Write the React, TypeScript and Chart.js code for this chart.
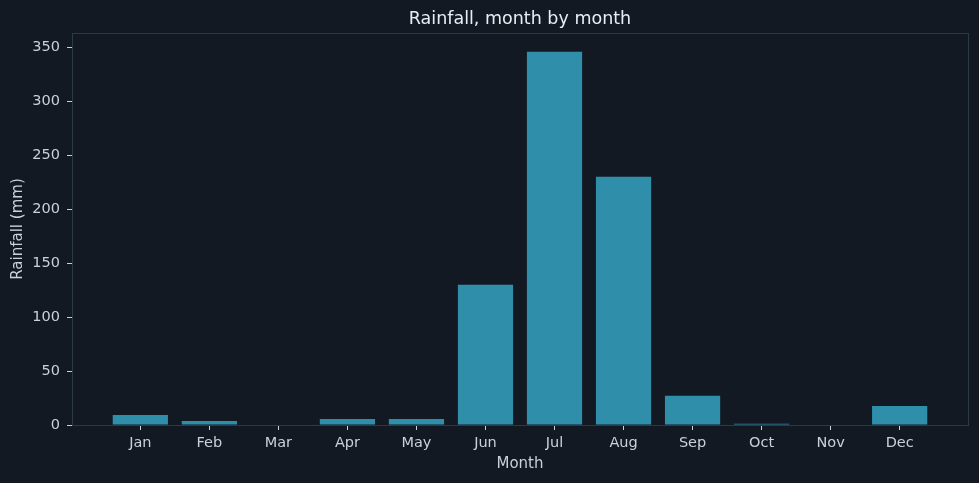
import { useEffect, useRef } from 'react';
import { Chart, registerables, Plugin } from 'chart.js';

Chart.register(...registerables);

const months = ['Jan', 'Feb', 'Mar', 'Apr', 'May', 'Jun', 'Jul', 'Aug', 'Sep', 'Oct', 'Nov', 'Dec'];
const rainfall = [9.3, 3.7, 0, 5.6, 5.6, 130, 346, 230, 27, 1.2, 0, 17.6];
const yTicks = [0, 50, 100, 150, 200, 250, 300, 350];

const BG = '#121922';
const BAR = '#2f8fab';
const TEXT = '#c9d1d9';
const TITLE = '#e6edf3';
const SPINE = '#2b3a45';
const FONT = "'DejaVu Sans', sans-serif";

// paints the figure background and the frame around the plot
const framePlugin: Plugin<'bar'> = {
  id: 'frame',
  beforeDraw(chart) {
    const { ctx, width, height } = chart;
    ctx.save();
    ctx.fillStyle = BG;
    ctx.fillRect(0, 0, width, height);
    ctx.restore();
  },
  afterDraw(chart) {
    const { ctx, chartArea } = chart;
    ctx.save();
    ctx.strokeStyle = SPINE;
    ctx.lineWidth = 1;
    ctx.strokeRect(chartArea.left + 0.5, chartArea.top + 0.5, chartArea.right - chartArea.left, chartArea.bottom - chartArea.top);
    ctx.fillStyle = TITLE;
    ctx.font = `17.5px ${FONT}`;
    ctx.textAlign = 'center';
    ctx.textBaseline = 'middle';
    ctx.fillText('Rainfall, month by month', (chartArea.left + chartArea.right) / 2, 19.5);
    ctx.restore();
  },
};

export default function App() {
  const chartRef = useRef<HTMLCanvasElement>(null);
  const chartInstance = useRef<Chart | null>(null);

  useEffect(() => {
    document.body.style.margin = '0';
    document.body.style.background = BG;
    if (!chartRef.current) return;
    if (chartInstance.current) chartInstance.current.destroy();

    chartInstance.current = new Chart(chartRef.current, {
      type: 'bar',
      data: {
        datasets: [
          {
            label: 'Rainfall',
            data: rainfall.map((v, i) => ({ x: i, y: v })),
            backgroundColor: BAR,
            borderWidth: 0,
            barPercentage: 0.8,
            categoryPercentage: 1,
          },
        ],
      },
      plugins: [framePlugin],
      options: {
        responsive: false,
        animation: false,
        layout: { padding: { left: 0, top: 33, right: 11, bottom: 0 } },
        plugins: {
          legend: { display: false },
          title: { display: false },
          tooltip: { enabled: false },
        },
        scales: {
          x: {
            type: 'linear',
            min: -0.99,
            max: 11.99,
            offset: false,
            afterBuildTicks: (scale) => {
              scale.ticks = months.map((_, i) => ({ value: i }));
            },
            afterFit: (scale) => {
              scale.height = 58;
            },
            grid: {
              offset: false,
              drawOnChartArea: false,
              drawTicks: true,
              tickLength: 5,
              color: TEXT,
            },
            border: { display: false },
            ticks: {
              color: TEXT,
              font: { family: FONT, size: 14.5 },
              padding: 5,
              maxRotation: 0,
              autoSkip: false,
              callback: (value) => months[Number(value)] ?? '',
            },
            title: {
              display: true,
              text: 'Month',
              color: TEXT,
              font: { family: FONT, size: 15 },
              padding: { top: 0, bottom: 10 },
            },
          },
          y: {
            min: 0,
            max: 363.3,
            afterBuildTicks: (scale) => {
              scale.ticks = yTicks.map((v) => ({ value: v }));
            },
            afterFit: (scale) => {
              scale.width = 72;
            },
            grid: {
              drawOnChartArea: false,
              drawTicks: true,
              tickLength: 5,
              color: TEXT,
            },
            border: { display: false },
            ticks: {
              color: TEXT,
              font: { family: FONT, size: 14.5 },
              padding: 7,
            },
            title: {
              display: true,
              text: 'Rainfall (mm)',
              color: TEXT,
              font: { family: FONT, size: 15 },
              padding: { top: 9, bottom: 0 },
            },
          },
        },
      },
    });

    return () => {
      if (chartInstance.current) {
        chartInstance.current.destroy();
        chartInstance.current = null;
      }
    };
  }, []);

  return (
    <div style={{ width: 979, height: 483, background: BG }}>
      <canvas ref={chartRef} width={979} height={483}></canvas>
    </div>
  );
}
